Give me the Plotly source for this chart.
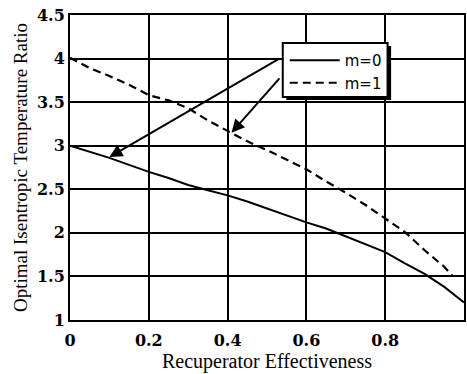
import plotly.graph_objects as go

eff = [0.0, 0.05, 0.1, 0.15, 0.2, 0.25, 0.3, 0.35, 0.4, 0.45, 0.5,
       0.55, 0.6, 0.65, 0.7, 0.75, 0.8, 0.85, 0.9, 0.95, 1.0]
ratio_m0 = [3.00, 2.93, 2.86, 2.78, 2.70, 2.63, 2.55, 2.49, 2.43, 2.36, 2.28,
            2.20, 2.12, 2.05, 1.96, 1.87, 1.78, 1.65, 1.53, 1.38, 1.20]
eff_m1 = [0.0, 0.05, 0.1, 0.15, 0.2, 0.25, 0.3, 0.35, 0.4, 0.45, 0.5,
          0.55, 0.6, 0.65, 0.7, 0.75, 0.8, 0.85, 0.9, 0.95, 0.972]
ratio_m1 = [4.01, 3.89, 3.80, 3.70, 3.58, 3.52, 3.43, 3.29, 3.17, 3.05, 2.95,
            2.84, 2.73, 2.59, 2.46, 2.32, 2.17, 2.01, 1.80, 1.61, 1.50]

x_ticks = [0, 0.2, 0.4, 0.6, 0.8, 1]
y_ticks = [1, 1.5, 2, 2.5, 3, 3.5, 4, 4.5]

serif = "Liberation Serif"
tick_serif = "DejaVu Serif"

fig = go.Figure()
fig.add_trace(go.Scatter(x=eff, y=ratio_m0, mode="lines", name="m=0",
                         line=dict(color="black", width=2)))
fig.add_trace(go.Scatter(x=eff_m1, y=ratio_m1, mode="lines", name="m=1",
                         line=dict(color="black", width=2.2, dash="8px,5px")))

# legend shadow and box
fig.add_shape(type="rect", xref="paper", yref="paper",
              x0=0.549, x1=0.815, y0=0.721, y1=0.898, fillcolor="black",
              line=dict(width=0), layer="above")
fig.add_shape(type="rect", xref="paper", yref="paper",
              x0=0.540, x1=0.806, y0=0.731, y1=0.908, fillcolor="white",
              line=dict(width=2, color="black"), layer="above")

# arrows from legend to curves
fig.add_annotation(x=0.10, y=2.87, ax=0.535, ay=4.01, axref="x", ayref="y",
                   xref="x", yref="y", showarrow=True, arrowhead=2,
                   arrowsize=1.3, arrowwidth=2, arrowcolor="black", text="")
fig.add_annotation(x=0.41, y=3.15, ax=0.535, ay=3.79, axref="x", ayref="y",
                   xref="x", yref="y", showarrow=True, arrowhead=2,
                   arrowsize=1.3, arrowwidth=2, arrowcolor="black", text="")

tickfont = dict(family=tick_serif, size=16, color="black", weight="bold")

fig.update_layout(
    width=467, height=374,
    margin=dict(l=70, r=1, t=15, b=54),
    paper_bgcolor="white", plot_bgcolor="white",
    font=dict(family=tick_serif, size=16, color="black"),
    showlegend=True,
    legend=dict(x=0.545, y=0.905, xanchor="left", yanchor="top",
                bgcolor="rgba(0,0,0,0)", borderwidth=0,
                font=dict(family="DejaVu Sans", size=15, color="black"),
                tracegroupgap=0, itemwidth=50),
)
fig.update_xaxes(range=[0, 1], tickmode="array", tickvals=x_ticks,
                 ticktext=[str(v) for v in x_ticks], tickfont=tickfont,
                 ticks="outside", ticklen=5, tickcolor="white",
                 showgrid=True, gridcolor="black", gridwidth=2,
                 showline=True, linecolor="black", linewidth=2, mirror=True,
                 zeroline=False,
                 title=dict(text="Recuperator Effectiveness", standoff=4,
                            font=dict(family=serif, size=20, color="black")))
fig.update_yaxes(range=[1, 4.5], tickmode="array", tickvals=y_ticks,
                 ticktext=[f"{v:g}" for v in y_ticks], tickfont=tickfont,
                 ticks="", showgrid=True, gridcolor="black", gridwidth=2,
                 showline=True, linecolor="black", linewidth=2, mirror=True,
                 zeroline=False,
                 title=dict(text="Optimal Isentropic Temperature Ratio", standoff=4,
                            font=dict(family=serif, size=19, color="black")))

fig.write_html("out.html")
